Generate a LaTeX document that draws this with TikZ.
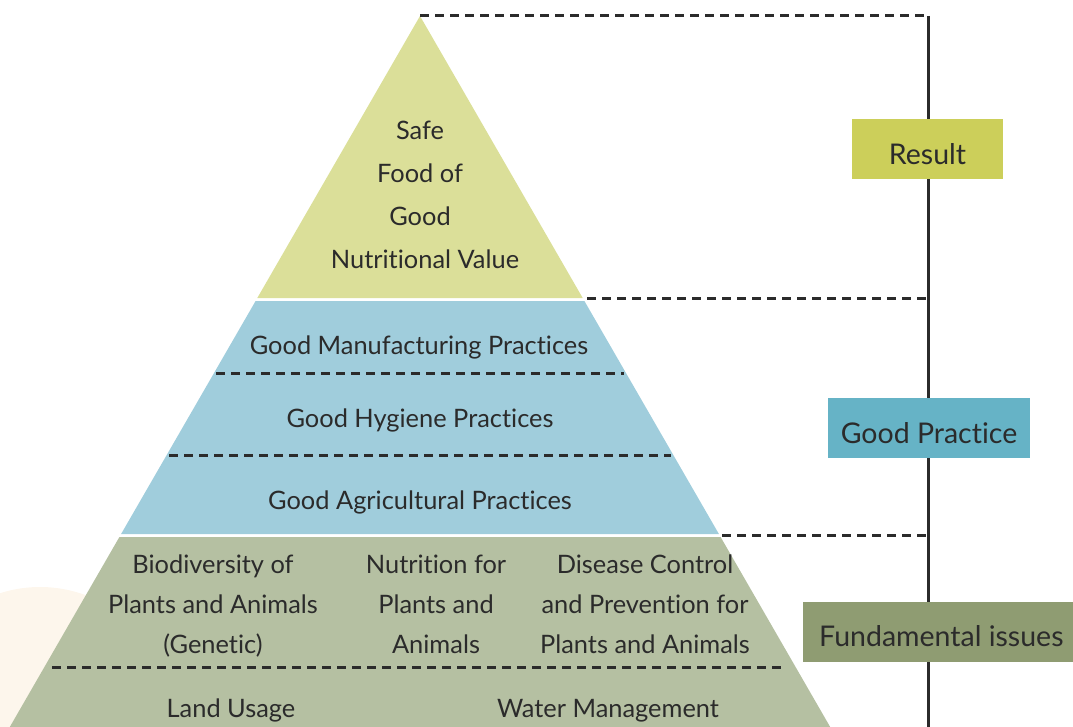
\documentclass[tikz,border=0pt]{standalone}
\usepackage{fontspec}
\setmainfont{Lato}[Ligatures=NoCommon]
\definecolor{topfill}{HTML}{DBDF99}
\definecolor{bluefill}{HTML}{A0CDDC}
\definecolor{greenfill}{HTML}{B5C0A2}
\definecolor{resfill}{HTML}{CCCF5A}
\definecolor{gpfill}{HTML}{66B3C6}
\definecolor{fifill}{HTML}{8F9C72}
\definecolor{cream}{HTML}{FDF6EC}
\definecolor{ink}{HTML}{2B2B2B}
\tikzset{
  tiertext/.style={text=ink, font=\fontsize{25.4}{25.4}\selectfont, inner sep=0pt, anchor=base},
  labelbox/.style={minimum height=60pt, inner sep=0pt},
  boxtext/.style={inner sep=0pt, text=ink, font=\fontsize{28.5}{28.5}\selectfont},
  dashline/.style={draw=ink, line width=3pt, dash pattern=on 9pt off 6pt},
  axis/.style={draw=ink, line width=3pt}
}
\begin{document}
\begin{tikzpicture}[x=1pt,y=-1pt]
\useasboundingbox (0,0) rectangle (1073,727);
\begin{scope}
\clip (0,0) rectangle (1073,727);
% cream blob
\fill[cream] (40,760) ellipse [x radius=150, y radius=173];
% tiers
\fill[topfill] (420,16) -- (257.3,298) -- (582.7,298) -- cycle;
\fill[bluefill] (255.6,301) -- (584.4,301) -- (718.9,534) -- (121.1,534) -- cycle;
\fill[greenfill] (119.4,537) -- (720.6,537) -- (830.2,727) -- (9.8,727) -- cycle;
% inner dashed separators
\coordinate (s1l) at (216,373); \coordinate (s1r) at (624,373);
\coordinate (s2l) at (169,455); \coordinate (s2r) at (671,455);
\coordinate (s3l) at (52,667);  \coordinate (s3r) at (786,667);
\draw[dashline] (s1l) -- (s1r);
\draw[dashline] (s2l) -- (s2r);
\draw[dashline] (s3l) -- (s3r);
% axis and outer dashed lines
\coordinate (apex) at (420,16);
\coordinate (t1) at (587,298);
\coordinate (t2) at (722,535);
\coordinate (atop) at (928,16);
\coordinate (a1) at (928,298);
\coordinate (a2) at (928,535);
\coordinate (abot) at (928,730);
\draw[axis] (atop) -- (abot);
\draw[dashline] (apex) -- (atop);
\draw[dashline] (t1) -- (a1);
\draw[dashline] (t2) -- (a2);
% label boxes
\node[labelbox, fill=resfill, minimum width=151pt] (result) at (927.5,149) {};
\node[boxtext] (resultt) at ([yshift=-5pt]result.center) {Result};
\node[labelbox, fill=gpfill, minimum width=202pt] (gp) at (929,428) {};
\node[boxtext] (gpt) at ([yshift=-5pt]gp.center) {Good Practice};
\node[labelbox, fill=fifill, minimum width=272pt, anchor=west] (fi) at (803,632) {};
\node[boxtext, anchor=west] (fit) at ([xshift=16pt,yshift=-4pt]fi.west) {Fundamental issues};
% top tier text
\node[tiertext] (t1a) at (420,140) {Safe};
\node[tiertext] (t1b) at (420,183) {Food of};
\node[tiertext] (t1c) at (420,226) {Good};
\node[tiertext] (t1d) at (425,269) {Nutritional Value};
% blue tier text
\node[tiertext] (gmp) at (419,354) {Good Manufacturing Practices};
\node[tiertext] (ghp) at (420,427) {Good Hygiene Practices};
\node[tiertext] (gap) at (420,509) {Good Agricultural Practices};
% green tier text
\node[tiertext] (b1) at (213,573) {Biodiversity of};
\node[tiertext] (b2) at (213,613) {Plants and Animals};
\node[tiertext] (b3) at (213,653) {(Genetic)};
\node[tiertext] (n1) at (436,573) {Nutrition for};
\node[tiertext] (n2) at (436,613) {Plants and};
\node[tiertext] (n3) at (436,653) {Animals};
\node[tiertext] (d1) at (645,573) {Disease Control};
\node[tiertext] (d2) at (645,613) {and Prevention for};
\node[tiertext] (d3) at (645,653) {Plants and Animals};
\node[tiertext] (lu) at (231,717) {Land Usage};
\node[tiertext] (wm) at (608,717) {Water Management};
\end{scope}
\end{tikzpicture}
\end{document}
